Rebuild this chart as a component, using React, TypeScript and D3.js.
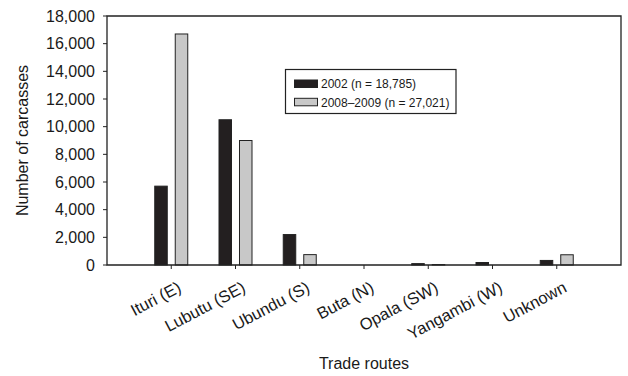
import React from 'react';
import * as d3 from 'd3';

const routes = ['Ituri (E)', 'Lubutu (SE)', 'Ubundu (S)', 'Buta (N)', 'Opala (SW)', 'Yangambi (W)', 'Unknown'];
const series = ['2002 (n = 18,785)', '2008\u20132009 (n = 27,021)'];
const values2002 = [5700, 10500, 2200, 0, 100, 180, 330];
const values2008 = [16700, 9000, 750, 0, 30, 0, 740];
const yTicks = [0, 2000, 4000, 6000, 8000, 10000, 12000, 14000, 16000, 18000];

const fills = ['#231f20', '#c8c8c8'];
const font = 'Arial, "Liberation Sans", Helvetica, sans-serif';

export default function App() {
    const width = 628;
    const height = 376;
    const left = 107, right = 621, top = 16, bottom = 265;

    const x = d3.scalePoint<string>().domain(routes).range([left, right]).padding(1);
    const x1 = d3.scaleBand<number>().domain([0, 1]).range([-16.5, 16.5]).paddingInner(0.39);
    const y = d3.scaleLinear().domain([0, 18000]).range([bottom, top]);
    const fmt = d3.format(',');

    const data = [values2002, values2008];

    return (
        <div style={{ position: 'absolute', left: 0, top: 0 }}>
            <svg width={width} height={height} style={{ display: 'block', fontFamily: font }}>
                <rect width={width} height={height} fill="#fff" />

                {/* bars */}
                {data.map((vals, s) =>
                    routes.map((r, i) => {
                        const v = vals[i];
                        if (v <= 0) return null;
                        return (
                            <rect key={s + '-' + i}
                                x={(x(r) as number) + (x1(s) as number)}
                                y={y(v)}
                                width={x1.bandwidth()}
                                height={y(0) - y(v)}
                                fill={fills[s]}
                                stroke="#222"
                                strokeWidth={1} />
                        );
                    })
                )}

                {/* frame */}
                <path d={`M${left},${bottom}V${top}H${right}V${bottom}Z`} fill="none" stroke="#222" strokeWidth={1.3} />

                {/* y ticks */}
                {yTicks.map(t => (
                    <g key={t}>
                        <line x1={left - 4} x2={left} y1={y(t)} y2={y(t)} stroke="#222" />
                        <text x={left - 12} y={y(t)} dy="0.35em" textAnchor="end" fontSize={16} fill="#1a1a1a">{fmt(t)}</text>
                    </g>
                ))}

                {/* x ticks and labels */}
                {routes.map(r => {
                    const cx = x(r) as number;
                    return (
                        <g key={r}>
                            <line x1={cx} x2={cx} y1={bottom} y2={bottom + 4} stroke="#222" />
                            <text transform={`translate(${cx + 11},${bottom + 26}) rotate(-28)`} textAnchor="end" fontSize={16.5} fill="#1a1a1a">{r}</text>
                        </g>
                    );
                })}

                {/* axis titles */}
                <text transform={`translate(28,${(top + bottom) / 2}) rotate(-90)`} textAnchor="middle" fontSize={16} fill="#1a1a1a">Number of carcasses</text>
                <text x={(left + right) / 2} y={369} textAnchor="middle" fontSize={16} fill="#1a1a1a">Trade routes</text>

                {/* legend */}
                <rect x={285.5} y={69.5} width={170.5} height={44} fill="#fff" stroke="#222" strokeWidth={1.2} />
                {series.map((name, s) => (
                    <g key={name}>
                        <rect x={294.5} y={80 + s * 18.3} width={23} height={7.5} fill={fills[s]} stroke="#222" strokeWidth={1} />
                        <text x={321} y={84 + s * 18.3} dy="0.35em" fontSize={12} fill="#1a1a1a">{name}</text>
                    </g>
                ))}
            </svg>
        </div>
    );
}
